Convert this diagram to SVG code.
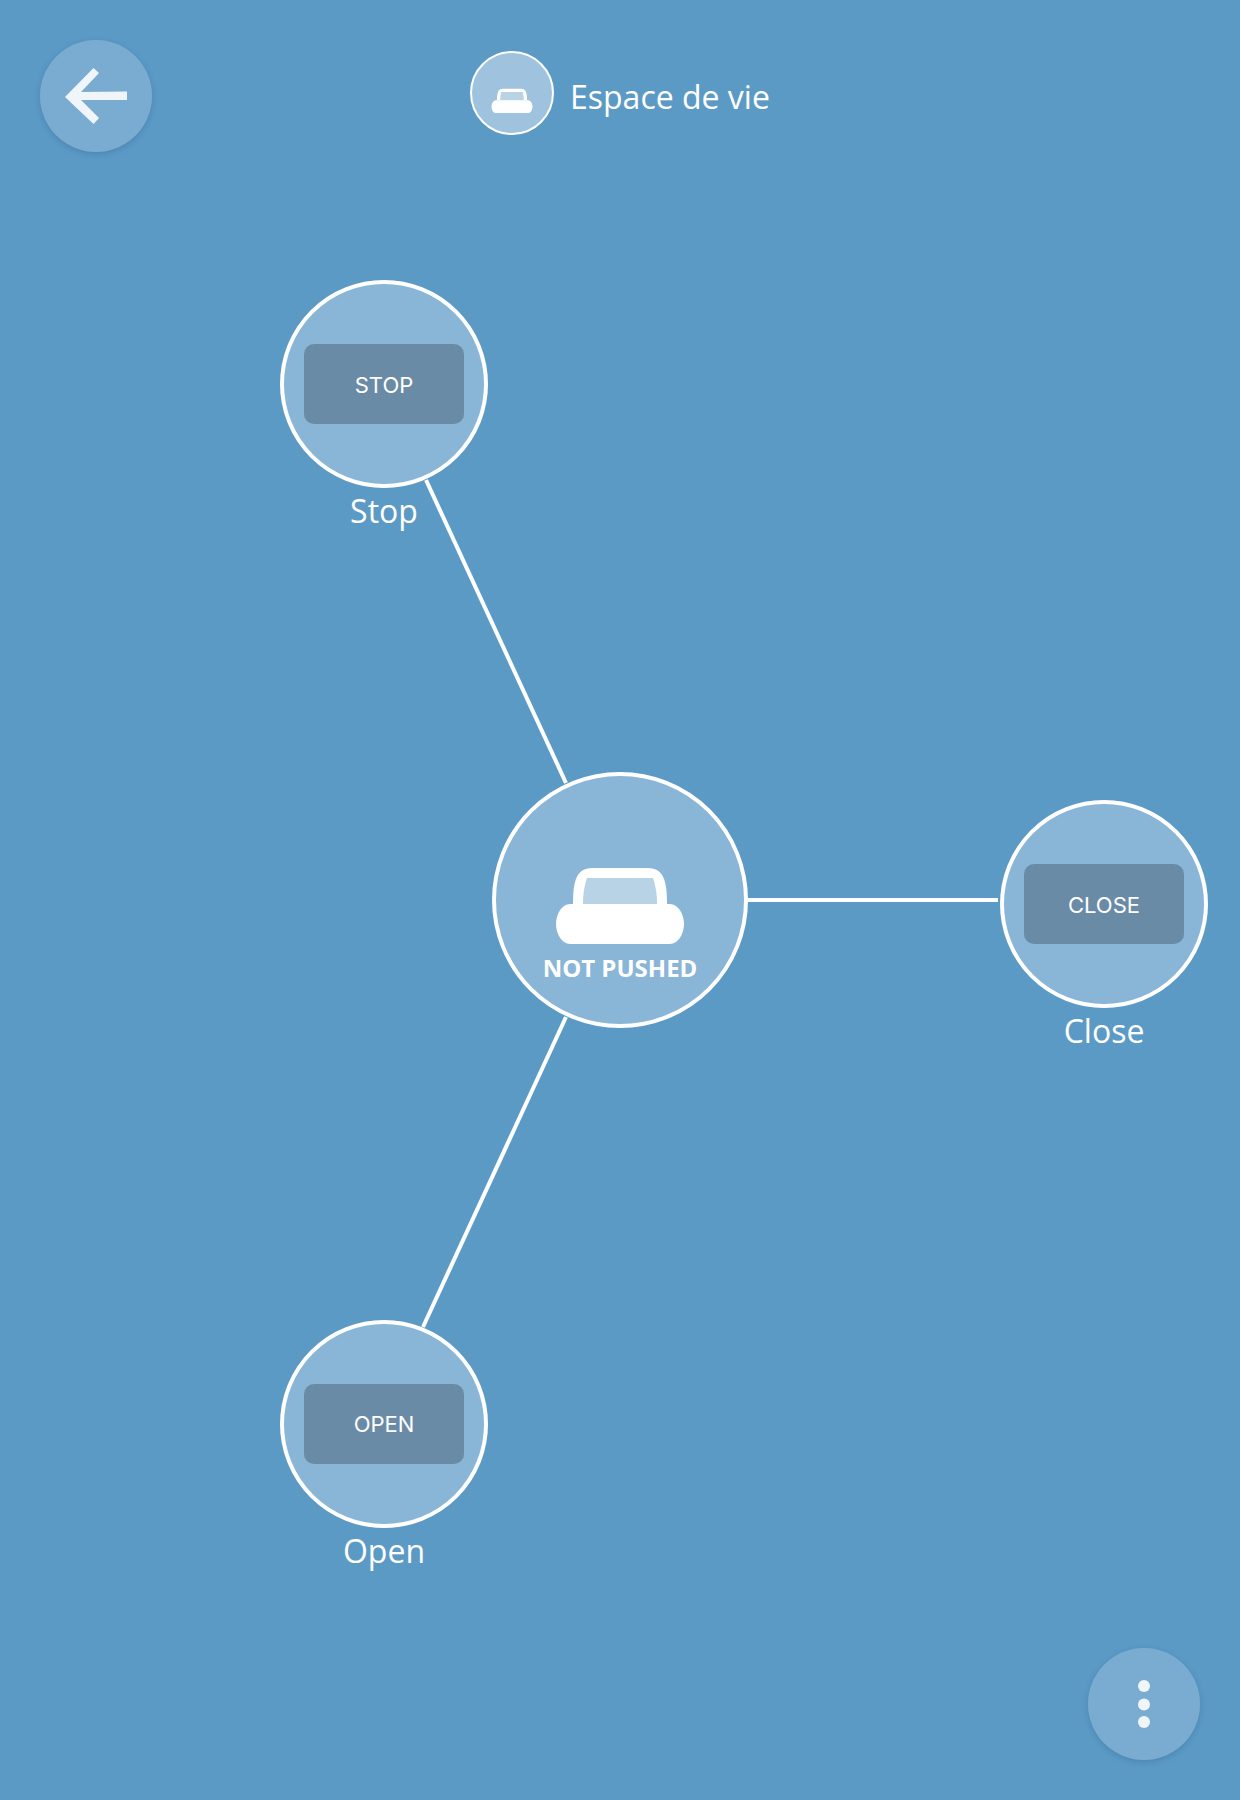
<svg xmlns="http://www.w3.org/2000/svg" width="1240" height="1800" viewBox="0 0 1240 1800">
<defs>
<filter id="sh" x="-30%" y="-30%" width="160%" height="160%"><feDropShadow dx="0" dy="2" stdDeviation="3" flood-color="#2c5a80" flood-opacity="0.35"/></filter>
<g id="iron"><path d="M-47 4 C-47 -18 -44 -32 -28 -32 L28 -32 C44 -32 47 -18 47 4 Z" fill="#fff"/><path d="M-37 4 C-37 -8 -35 -16 -33 -22 L33 -22 C35 -16 37 -8 37 4 Z" fill="#b8d2e6"/><path d="M-50 4 L50 4 C58 4 64 14 64 24 C64 34 58 44 50 44 L-50 44 C-58 44 -64 34 -64 24 C-64 14 -58 4 -50 4 Z" fill="#fff"/></g>
</defs>
<style>
.node{fill:#89b5d7;stroke:#fff;stroke-width:4}
.btn{fill:#6a8ba6}
.fab{fill:#7aacd2;filter:url(#sh)}
.lbl{font-family:"Open Sans","Noto Sans",sans-serif;font-size:32px;fill:#fff;text-anchor:middle}
.cmd{font-family:Inter,Roboto,sans-serif;font-size:22px;fill:#fff;text-anchor:middle}
.conn{stroke:#fff;stroke-width:4;fill:none}
</style>
<rect width="1240" height="1800" fill="#5c9ac6"/>
<g id="connectors">
<line class="conn" x1="426" y1="480" x2="566" y2="783"/>
<line class="conn" x1="566" y1="1017" x2="423" y2="1327"/>
<line class="conn" x1="748" y1="900" x2="998" y2="900"/>
</g>
<g id="back"><circle class="fab" cx="96" cy="96" r="56"/><path d="M93.500 68 L99 73 L81 92 L127 91.500 L127 100 L81 100 L99 118 L93.500 124 L65 97 Z" fill="#f0f5fa"/></g>
<g id="title"><circle cx="512" cy="93" r="41" fill="#9fc3df" stroke="#fff" stroke-width="2"/><use href="#iron" transform="translate(512 99) scale(0.32)"/><text x="570" y="109" font-family="'Open Sans','Noto Sans',sans-serif" font-size="32" fill="#fff">Espace de vie</text></g>
<g id="stop"><circle class="node" cx="384" cy="384" r="102"/><rect class="btn" x="304" y="344" width="160" height="80" rx="10"/><text class="cmd" x="384" y="393">STOP</text><text class="lbl" x="384" y="523">Stop</text></g>
<g id="close"><circle class="node" cx="1104" cy="904" r="102"/><rect class="btn" x="1024" y="864" width="160" height="80" rx="10"/><text class="cmd" x="1104" y="913">CLOSE</text><text class="lbl" x="1104" y="1043">Close</text></g>
<g id="open"><circle class="node" cx="384" cy="1424" r="102"/><rect class="btn" x="304" y="1384" width="160" height="80" rx="10"/><text class="cmd" x="384" y="1432">OPEN</text><text class="lbl" x="384" y="1563">Open</text></g>
<g id="center"><circle class="node" cx="620" cy="900" r="126"/><use href="#iron" transform="translate(620 900)"/><text x="620" y="977" font-family="'Open Sans','Noto Sans',sans-serif" font-weight="700" font-size="24" fill="#fff" text-anchor="middle">NOT PUSHED</text></g>
<g id="menu"><circle class="fab" cx="1144" cy="1704" r="56"/><circle cx="1144" cy="1686" r="6" fill="#f0f5fa"/><circle cx="1144" cy="1704.500" r="6" fill="#f0f5fa"/><circle cx="1144" cy="1722" r="6" fill="#f0f5fa"/></g>
</svg>
